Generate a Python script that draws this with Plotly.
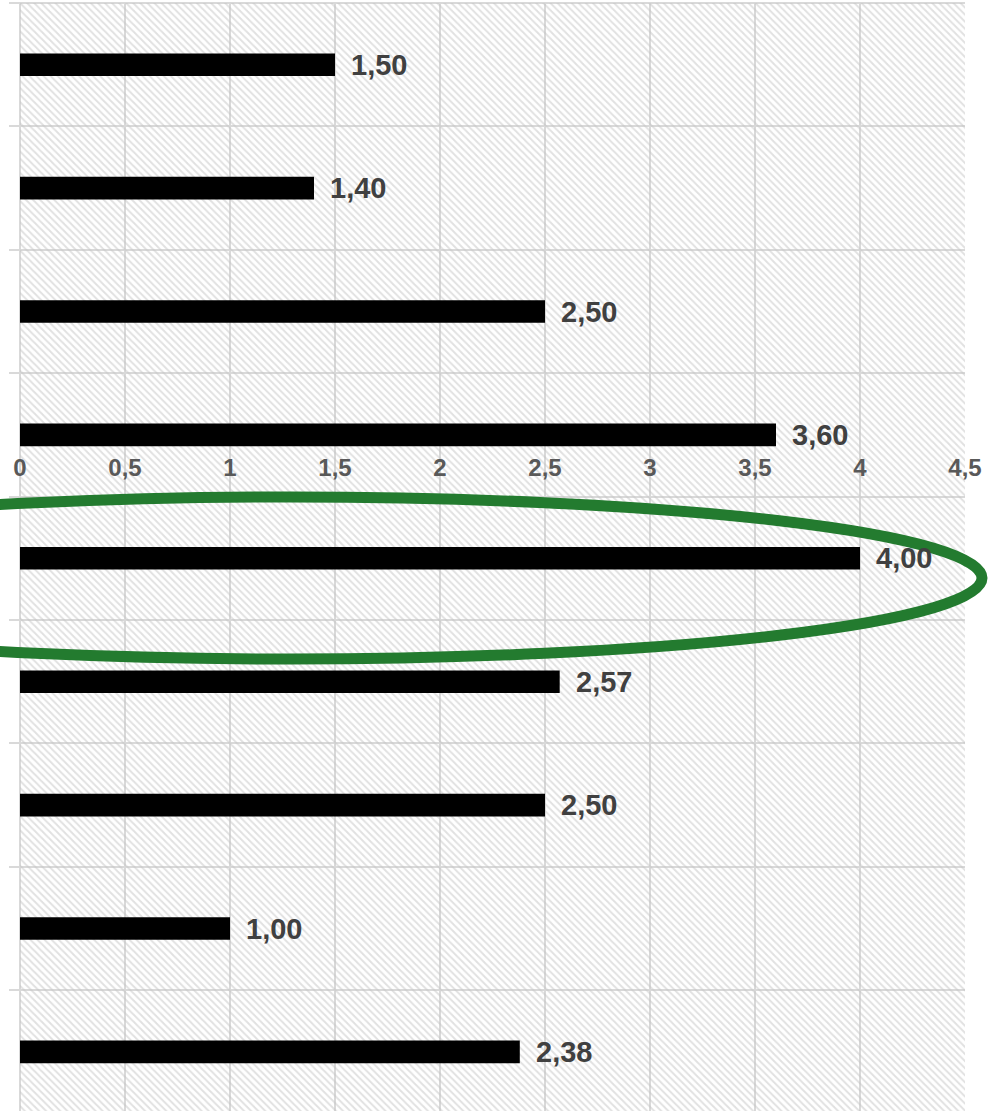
import plotly.graph_objects as go

categories = ["Item 1", "Item 2", "Item 3", "Item 4", "Item 5", "Item 6", "Item 7", "Item 8", "Item 9"]
values = [1.50, 1.40, 2.50, 3.60, 4.00, 2.57, 2.50, 1.00, 2.38]
x_ticks = [0, 0.5, 1, 1.5, 2, 2.5, 3, 3.5, 4, 4.5]
x_tick_labels = ["0", "0,5", "1", "1,5", "2", "2,5", "3", "3,5", "4", "4,5"]
X_MAX = 4.5

W, H = 995, 1111
M_L, M_R, M_T, M_B = 20, 30, 3, 0
plot_w = W - M_L - M_R
plot_h = H - M_T - M_B
cat_px = 123.4
y_bottom = -0.5 + plot_h / cat_px

GRID = "#d9d9d9"
FONT = "Liberation Sans, Arial, sans-serif"

fig = go.Figure()

# hatched background
fig.add_trace(go.Bar(
    y=categories, x=[X_MAX] * len(categories), orientation="h", width=1.0,
    marker=dict(color="rgba(0,0,0,0)", line=dict(width=0),
                pattern=dict(shape="\\", size=5, solidity=0.4,
                             fgcolor="#c4c4c4", bgcolor="rgba(0,0,0,0)")),
    hoverinfo="skip", showlegend=False,
))

fig.add_trace(go.Bar(
    y=categories, x=values, orientation="h", width=0.183,
    marker=dict(color="#000000", line=dict(width=0)),
    showlegend=False,
))

for c, v in zip(categories, values):
    fig.add_annotation(
        x=v, y=c, xref="x", yref="y", text=f"{v:.2f}".replace(".", ","),
        xanchor="left", yanchor="middle", xshift=14, showarrow=False,
        font=dict(family=FONT, size=29, color="#404040", weight="bold"),
    )

def px_x(p):
    return (p - M_L) / plot_w

def px_y(p):
    return (H - M_B - p) / plot_h

# green ellipse highlight
fig.add_shape(
    type="circle", xref="paper", yref="paper",
    x0=px_x(-402), x1=px_x(982), y0=px_y(659), y1=px_y(497),
    line=dict(color="#237B2F", width=11), fillcolor="rgba(0,0,0,0)", layer="above",
)

# top border line
fig.add_shape(type="line", xref="paper", yref="paper", x0=px_x(10), x1=1, y0=1, y1=1,
              line=dict(color=GRID, width=2), layer="below")

fig.update_layout(
    width=W, height=H,
    margin=dict(l=M_L, r=M_R, t=M_T, b=M_B),
    paper_bgcolor="white", plot_bgcolor="white",
    barmode="overlay", separators=",.",
    xaxis=dict(
        range=[0, X_MAX], tickmode="array", tickvals=x_ticks, ticktext=x_tick_labels,
        showgrid=True, gridcolor=GRID, gridwidth=2,
        zeroline=True, zerolinecolor=GRID, zerolinewidth=2,
        side="top", anchor="free", position=px_y(488),
        ticks="outside", ticklen=2, tickcolor="rgba(0,0,0,0)",
        tickfont=dict(family=FONT, size=24, color="#595959", weight="bold"),
        showline=False,
    ),
    yaxis=dict(
        type="category", range=[y_bottom, -0.5], tickson="boundaries",
        showgrid=True, gridcolor=GRID, gridwidth=2,
        ticks="outside", ticklen=10, tickcolor=GRID, tickwidth=2,
        showticklabels=False, showline=False,
    ),
)

fig.write_html("out.html", config={"displayModeBar": False},
               post_script="document.body.style.margin='0';")
